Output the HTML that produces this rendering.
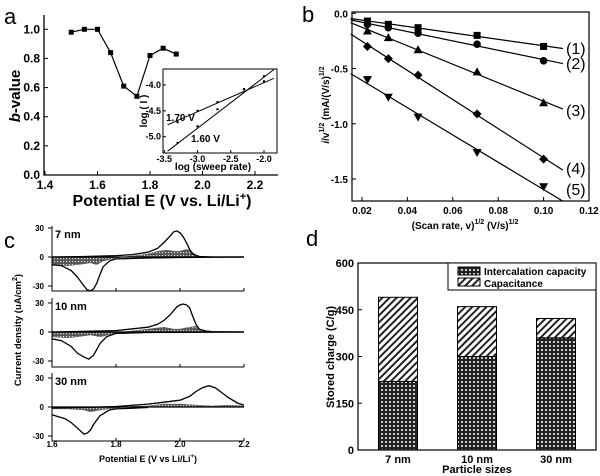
<!DOCTYPE html>
<html><head><meta charset="utf-8">
<style>
html,body{margin:0;padding:0;background:#fff;}
svg{display:block;font-family:"Liberation Sans",Arial,sans-serif;}
</style></head>
<body>
<svg id="fig" width="600" height="476" viewBox="0 0 600 476">
<defs>
<pattern id="dots" width="4" height="4" patternUnits="userSpaceOnUse"><rect width="4" height="4" fill="#222"/><circle cx="2" cy="2" r="1" fill="#fff"/></pattern>
<pattern id="diag" width="5" height="5" patternUnits="userSpaceOnUse" patternTransform="rotate(45)"><rect width="5" height="5" fill="#fff"/><rect width="2" height="5" fill="#222"/></pattern>
<pattern id="cross" width="3" height="3" patternUnits="userSpaceOnUse"><rect width="3" height="3" fill="#555"/><rect width="1.2" height="1.2" fill="#ddd"/></pattern>
</defs>
<g id="pa"></g>
<g id="pb"></g>
<g id="pc"></g>
<g id="pd"></g>
</svg>
<script>
// ---------- Panel a data ----------
const aPotential = [1.5,1.55,1.6,1.65,1.7,1.75,1.8,1.85,1.9];
const aBValue = [0.98,1.0,1.0,0.84,0.61,0.54,0.82,0.87,0.83];
const aXTicks = [1.4,1.6,1.8,2.0,2.2];
const aYTicks = [0.0,0.2,0.4,0.6,0.8,1.0];
const insetLogRate = [-3.3,-3.0,-2.7,-2.3,-2.0];
const inset170 = [-4.72,-4.5,-4.33,-4.08,-3.93];
const inset160 = [-5.12,-4.8,-4.47,-4.08,-3.83];
const insetFit170 = [-4.77,-3.87];
const insetFit160 = [-5.28,-3.7];
const insetXTicks = [-3.5,-3.0,-2.5,-2.0];
const insetYTicks = [-4.0,-4.5,-5.0];
// ---------- Panel b data ----------
const bScanRate = [0.0224,0.0316,0.0447,0.0707,0.1];
const bS1 = [-0.07,-0.10,-0.13,-0.20,-0.30];
const bS2 = [-0.10,-0.13,-0.18,-0.28,-0.43];
const bS3 = [-0.16,-0.22,-0.33,-0.53,-0.81];
const bS4 = [-0.30,-0.41,-0.56,-0.91,-1.32];
const bS5 = [-0.60,-0.76,-0.94,-1.26,-1.57];
const bLabels = ["(1)","(2)","(3)","(4)","(5)"];
const bXTicks = [0.02,0.04,0.06,0.08,0.10,0.12];
const bYTicks = [0.0,-0.5,-1.0,-1.5];
// ---------- Panel c data ----------
const c7E_an = [1.6,1.7,1.8,1.85,1.9,1.93,1.95,1.97,1.98,1.99,2.0,2.01,2.02,2.03,2.04,2.06,2.1,2.2];
const c7I_an = [0,0.5,1.5,2.5,5,9,15,22,26,27,25,21,15,8,3,0.5,0,0];
const c7E_ca = [1.6,1.63,1.66,1.68,1.7,1.71,1.72,1.73,1.74,1.75,1.76,1.78,1.8,1.9,2.0,2.2];
const c7I_ca = [-8,-9,-14,-21,-30,-34,-35,-33,-27,-18,-10,-4,-2,-1,-0.5,0];
const c7E_cap = [1.6,1.65,1.7,1.72,1.74,1.76,1.8,1.85,1.9,1.93,1.96,1.98,2.0,2.02,2.03,2.05,2.07,2.2];
const c7I_cap = [-8,-9,-7,-6,-8,-4,-1,1,3,6,7,6,6,8,7,2,0,0];
const c10E_an = [1.6,1.8,1.9,1.93,1.95,1.97,1.98,1.99,2.0,2.01,2.02,2.03,2.04,2.05,2.06,2.08,2.1,2.2];
const c10I_an = [0,1.5,5,8,12,18,22,26,28,29,28,25,16,8,3,1,0.3,0];
const c10E_ca = [1.6,1.63,1.66,1.68,1.7,1.715,1.73,1.75,1.77,1.8,1.9,2.2];
const c10I_ca = [-7,-9,-15,-22,-26,-28,-24,-12,-5,-1.5,-0.5,0];
const c10E_cap = [1.6,1.65,1.7,1.72,1.75,1.8,1.85,1.9,1.95,1.98,2.0,2.03,2.05,2.07,2.1,2.2];
const c10I_cap = [-5,-6,-4,-3,-5,-1,1,3,5,3,3,5,6,1,0,0];
const c30E_an = [1.6,1.7,1.8,1.9,1.95,2.0,2.03,2.05,2.07,2.09,2.11,2.13,2.15,2.18,2.2];
const c30I_an = [-1,-0.5,0.5,3,5,7,11,16,20,22,20,15,10,4,2];
const c30E_ca = [1.6,1.62,1.64,1.66,1.68,1.7,1.71,1.72,1.73,1.75,1.78,1.8,1.9];
const c30I_ca = [-8,-10,-12,-16,-22,-28,-27,-24,-18,-9,-3,-2,-0.5];
const c30E_cap = [1.6,1.65,1.7,1.72,1.75,1.8,1.85,1.9,1.95,2.0,2.05,2.1,2.15,2.2];
const c30I_cap = [-2,-2,-3,-5,-3,-1,0.5,1,3,3,2,1,2,1];
const cXTicks = [1.6,1.8,2.0,2.2];
const cYTicks = [30,0,-30];
const cNames = ["7 nm","10 nm","30 nm"];
// ---------- Panel d data ----------
const dSizes = ["7 nm","10 nm","30 nm"];
const dIntercalation = [220,300,360];
const dTotal = [490,460,422];
const dYTicks = [0,150,300,450,600];

const NS = "http://www.w3.org/2000/svg";
function mk(tag, attrs, parent, txt){
  const e = document.createElementNS(NS, tag);
  for (const k in attrs) e.setAttribute(k, attrs[k]);
  if (txt !== undefined) e.textContent = txt;
  parent.appendChild(e);
  return e;
}
function lin(d0,d1,r0,r1){return v => r0 + (v-d0)*(r1-r0)/(d1-d0);}
function ptsPath(xs,ys,sx,sy){return xs.map((x,i)=>(i?'L':'M')+sx(x).toFixed(1)+','+sy(ys[i]).toFixed(1)).join('');}

// ================= Panel a =================
const pa = document.getElementById('pa');
let t = mk('text',{x:4,y:24,'font-size':22},pa,'a');


const ax = lin(1.4,2.2,45,255), ay = lin(0,1,175,29.3);
let l = mk('path',{d:'M44,15V175H278',fill:'none',stroke:'#000','stroke-width':1.3},pa);


aXTicks.forEach(v=>{
  mk('line',{x1:ax(v),x2:ax(v),y1:175,y2:171,stroke:'#000'},pa);
  t = mk('text',{x:ax(v),y:189,'text-anchor':'middle','font-size':12,'font-weight':'bold'},pa,v.toFixed(1));
  
  
});
aYTicks.forEach(v=>{
  mk('line',{x1:44,x2:48,y1:ay(v),y2:ay(v),stroke:'#000'},pa);
  t = mk('text',{x:40,y:ay(v)+4,'text-anchor':'end','font-size':12,'font-weight':'bold'},pa,v.toFixed(1));
  
  
});
l = mk('path',{d:ptsPath(aPotential,aBValue,ax,ay),fill:'none',stroke:'#000','stroke-width':1.2},pa);


aPotential.forEach((x,i)=>{
  const r = mk('rect',{x:ax(x)-2.5,y:ay(aBValue[i])-2.5,width:5,height:5,fill:'#000'},pa);
  
  
});
t = mk('text',{x:162,y:206,'text-anchor':'middle','font-size':16,'font-weight':'bold'},pa);


t.innerHTML='Potential E (V vs. Li/Li<tspan dy="-6" font-size="11">+</tspan><tspan dy="6">)</tspan>';
t = mk('text',{transform:'translate(20,96) rotate(-90)','text-anchor':'middle','font-size':15,'font-weight':'bold'},pa);


t.innerHTML='<tspan font-style="italic">b</tspan>-value';
// inset
const ix = lin(-3.5,-2.0,164.3,264), iy = lin(-4,-5,85,136.7);
l = mk('rect',{x:163,y:69,width:114,height:84,fill:'#fff',stroke:'#000','stroke-width':1},pa);


insetXTicks.forEach(v=>{
  mk('line',{x1:ix(v),x2:ix(v),y1:153,y2:150,stroke:'#000'},pa);
  t = mk('text',{x:ix(v),y:162,'text-anchor':'middle','font-size':9,'font-weight':'bold'},pa,v.toFixed(1));
  
  
});
insetYTicks.forEach(v=>{
  mk('line',{x1:163,x2:166,y1:iy(v),y2:iy(v),stroke:'#000'},pa);
  t = mk('text',{x:161,y:iy(v)+3,'text-anchor':'end','font-size':9,'font-weight':'bold'},pa,v.toFixed(1));
  
  
});
l = mk('line',{x1:ix(-3.45),y1:iy(insetFit170[0]),x2:ix(-1.85),y2:iy(insetFit170[1]),stroke:'#000'},pa);


l = mk('line',{x1:ix(-3.45),y1:iy(insetFit160[0]),x2:ix(-1.85),y2:iy(insetFit160[1]),stroke:'#000'},pa);


insetLogRate.forEach((x,i)=>{
  let c = mk('circle',{cx:ix(x),cy:iy(inset170[i]),r:1.2,fill:'#000'},pa);
  
  
  c = mk('circle',{cx:ix(x),cy:iy(inset160[i]),r:1.2,fill:'#000'},pa);
  
  
});
t = mk('text',{x:166,y:121,'font-size':10,'font-weight':'bold'},pa,'1.70 V');


t = mk('text',{x:191,y:142,'font-size':10,'font-weight':'bold'},pa,'1.60 V');


t = mk('text',{x:213,y:170,'text-anchor':'middle','font-size':10,'font-weight':'bold'},pa,'log (sweep rate)');


t = mk('text',{transform:'translate(147,111) rotate(-90)','text-anchor':'middle','font-size':10,'font-weight':'bold'},pa,'log ( I )');



// ================= Panel b =================
const pb = document.getElementById('pb');
t = mk('text',{x:302,y:22,'font-size':22},pb,'b');


const bx = lin(0.02,0.12,362,589), by = lin(0,-1.5,13.3,179);
l = mk('rect',{x:352,y:12,width:237,height:189,fill:'none',stroke:'#000','stroke-width':1.2},pb);


bXTicks.forEach(v=>{
  mk('line',{x1:bx(v),x2:bx(v),y1:201,y2:197,stroke:'#000'},pb);
  t = mk('text',{x:bx(v),y:214,'text-anchor':'middle','font-size':10,'font-weight':'bold'},pb,v.toFixed(2));
  
  
});
bYTicks.forEach(v=>{
  mk('line',{x1:352,x2:356,y1:by(v),y2:by(v),stroke:'#000'},pb);
  t = mk('text',{x:348,y:by(v)+4,'text-anchor':'end','font-size':10,'font-weight':'bold'},pb,v.toFixed(1));
  
  
});
const bSeries = [bS1,bS2,bS3,bS4,bS5];
const bLabelY = [48,63,110,168,189];
bSeries.forEach((ys,si)=>{
  const n=ys.length, mx=bScanRate.reduce((a,b)=>a+b)/n, my=ys.reduce((a,b)=>a+b)/n;
  let sxy=0,sxx=0; bScanRate.forEach((x,i)=>{sxy+=(x-mx)*(ys[i]-my);sxx+=(x-mx)*(x-mx);});
  const k=sxy/sxx, b0=my-k*mx;
  let x0=0.015, x1=0.1085; let y1=b0+k*x1;
  if (y1 < -1.7){x1=(-1.7-b0)/k;y1=-1.7;}
  l = mk('line',{x1:bx(x0),y1:by(b0+k*x0),x2:bx(x1),y2:by(y1),stroke:'#000','stroke-width':1.2},pb);
  
  
  bScanRate.forEach((x,i)=>{
    const cx=bx(x), cy=by(ys[i]); let m;
    if (si===0) m = mk('rect',{x:cx-3.5,y:cy-3.5,width:7,height:7,fill:'#000'},pb);
    else if (si===1) m = mk('circle',{cx:cx,cy:cy,r:3.8,fill:'#000'},pb);
    else if (si===2) m = mk('path',{d:`M${cx},${cy-4.5}L${cx+4.5},${cy+3.5}L${cx-4.5},${cy+3.5}Z`,fill:'#000'},pb);
    else if (si===3) m = mk('path',{d:`M${cx},${cy-4.5}L${cx+4.5},${cy}L${cx},${cy+4.5}L${cx-4.5},${cy}Z`,fill:'#000'},pb);
    else m = mk('path',{d:`M${cx-4.5},${cy-3.5}L${cx+4.5},${cy-3.5}L${cx},${cy+4.5}Z`,fill:'#000'},pb);
    
    
  });
  t = mk('text',{x:566,y:bLabelY[si]+6,'font-size':16,fill:'#000'},pb,bLabels[si]);
  
  
});
t = mk('text',{x:465,y:229,'text-anchor':'middle','font-size':10,'font-weight':'bold'},pb);


t.innerHTML='(Scan rate, v)<tspan dy="-5" font-size="7">1/2</tspan><tspan dy="5"> (V/s)</tspan><tspan dy="-5" font-size="7">1/2</tspan>';
t = mk('text',{transform:'translate(329,105) rotate(-90)','text-anchor':'middle','font-size':10,'font-weight':'bold'},pb);


t.innerHTML='<tspan font-style="italic">i</tspan>/v<tspan dy="-5" font-size="7">1/2</tspan><tspan dy="5"> (mA/(V/s)</tspan><tspan dy="-5" font-size="7">1/2</tspan>';

// ================= Panel c =================
const pc = document.getElementById('pc');
t = mk('text',{x:4,y:248,'font-size':22},pc,'c');


const cx = lin(1.6,2.2,52,244);
const cZero = [257,332,407], cTop=[226,298,373], cBot=[291,367,441];
const cAn=[[c7E_an,c7I_an],[c10E_an,c10I_an],[c30E_an,c30I_an]];
const cCa=[[c7E_ca,c7I_ca],[c10E_ca,c10I_ca],[c30E_ca,c30I_ca]];
const cCap=[[c7E_cap,c7I_cap],[c10E_cap,c10I_cap],[c30E_cap,c30I_cap]];
for (let p=0;p<3;p++){
  const g = mk('g',{},pc);
  
  
  const cy = lin(0,30,cZero[p],cZero[p]-29);
  mk('clipPath',{id:'cc'+p},g).appendChild(document.createElementNS(NS,'rect'));
  const cr = g.querySelector('clipPath rect');
  cr.setAttribute('x',52); cr.setAttribute('y',cTop[p]); cr.setAttribute('width',193); cr.setAttribute('height',cBot[p]-cTop[p]);
  const [ce,ci]=cCap[p];
  l = mk('path',{d:ptsPath(ce,ci,cx,cy)+`L${cx(ce[ce.length-1])},${cy(0)}L${cx(ce[0])},${cy(0)}Z`,fill:'url(#cross)',stroke:'#555','stroke-width':0.5,'clip-path':`url(#cc${p})`},g);
  
  
  mk('line',{x1:52,x2:244,y1:cy(0),y2:cy(0),stroke:'#000','stroke-width':1.2},g);
  l = mk('path',{d:ptsPath(cAn[p][0],cAn[p][1],cx,cy),fill:'none',stroke:'#000','stroke-width':1.3,'clip-path':`url(#cc${p})`},g);
  
  
  l = mk('path',{d:ptsPath(cCa[p][0],cCa[p][1],cx,cy),fill:'none',stroke:'#000','stroke-width':1.3,'clip-path':`url(#cc${p})`},g);
  
  
  mk('path',{d:`M52,${cTop[p]}V${cBot[p]}H244`,fill:'none',stroke:'#000','stroke-width':1},g);
  cXTicks.forEach(v=>mk('line',{x1:cx(v),x2:cx(v),y1:cBot[p],y2:cBot[p]-3,stroke:'#000'},g));
  cYTicks.forEach(v=>{
    if (cy(v)<cTop[p]-1) return;
    mk('line',{x1:52,x2:48,y1:cy(v),y2:cy(v),stroke:'#000'},g);
    t = mk('text',{x:44,y:cy(v)+3,'text-anchor':'end','font-size':8,'font-weight':'bold'},g,String(v));
    
    
  });
  t = mk('text',{x:55,y:cTop[p]+12,'font-size':11,'font-weight':'bold'},g,cNames[p]);
  
  
}
cXTicks.forEach(v=>{
  t = mk('text',{x:cx(v),y:447,'text-anchor':'middle','font-size':8,'font-weight':'bold'},pc,v.toFixed(1));
  
  
});
t = mk('text',{x:148,y:462,'text-anchor':'middle','font-size':9,'font-weight':'bold'},pc);


t.innerHTML='Potential  E (V vs Li/Li<tspan dy="-4" font-size="6">+</tspan><tspan dy="4">)</tspan>';
t = mk('text',{transform:'translate(21,330) rotate(-90)','text-anchor':'middle','font-size':9.5,'font-weight':'bold'},pc);


t.innerHTML='Current density (uA/cm<tspan dy="-4" font-size="7">2</tspan><tspan dy="4">)</tspan>';

// ================= Panel d =================
const pd = document.getElementById('pd');
t = mk('text',{x:306,y:246,'font-size':22},pd,'d');


const dy = lin(0,600,450,263);
const dCenters = [398,477,556];
dSizes.forEach((s,i)=>{
  let r = mk('rect',{x:dCenters[i]-19.5,y:dy(dIntercalation[i]),width:39,height:dy(0)-dy(dIntercalation[i]),fill:'url(#dots)',stroke:'#000'},pd);
  
  
  r = mk('rect',{x:dCenters[i]-19.5,y:dy(dTotal[i]),width:39,height:dy(dIntercalation[i])-dy(dTotal[i]),fill:'url(#diag)',stroke:'#000'},pd);
  
  
  t = mk('text',{x:dCenters[i],y:463,'text-anchor':'middle','font-size':11,'font-weight':'bold'},pd,s);
  
  
});
l = mk('rect',{x:358,y:263,width:238,height:187,fill:'none',stroke:'#000','stroke-width':1.2},pd);


dYTicks.forEach(v=>{
  mk('line',{x1:358,x2:362,y1:dy(v),y2:dy(v),stroke:'#000'},pd);
  t = mk('text',{x:354,y:dy(v)+4,'text-anchor':'end','font-size':11,'font-weight':'bold'},pd,String(v));
  
  
});
const lg = mk('g',{},pd);


mk('rect',{x:448,y:263,width:148,height:27,fill:'#fff',stroke:'#000'},lg);
mk('rect',{x:458,y:267,width:22,height:8,fill:'url(#dots)',stroke:'#000'},lg);
mk('rect',{x:458,y:278,width:22,height:8,fill:'url(#diag)',stroke:'#000'},lg);
t = mk('text',{x:484,y:275,'font-size':10,'font-weight':'bold'},lg,'Intercalation capacity');


t = mk('text',{x:484,y:287,'font-size':10,'font-weight':'bold'},lg,'Capacitance');


t = mk('text',{x:477,y:473,'text-anchor':'middle','font-size':11,'font-weight':'bold'},pd,'Particle sizes');


t = mk('text',{transform:'translate(334,357) rotate(-90)','text-anchor':'middle','font-size':11,'font-weight':'bold'},pd,'Stored charge (C/g)');


</script>
</body></html>
